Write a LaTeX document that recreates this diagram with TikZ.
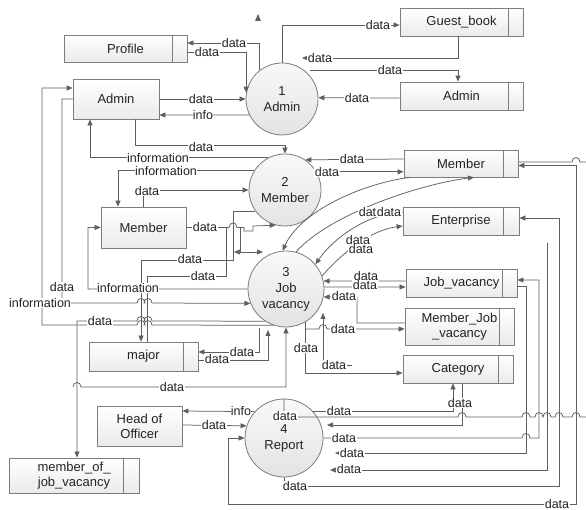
\documentclass[tikz,border=0pt]{standalone}
\usepackage{fontspec}
\setmainfont{Liberation Sans}
\usetikzlibrary{arrows.meta}
\definecolor{ln}{RGB}{95,95,95}
\definecolor{bd}{RGB}{125,125,125}
\definecolor{tx}{RGB}{35,35,35}
\newcommand{\hjr}[2]{-- ({#1-4},#2) .. controls ({#1-4},{#2-6}) and ({#1+4},{#2-6}) .. ({#1+4},#2)}
\newcommand{\hjl}[2]{-- ({#1+4},#2) .. controls ({#1+4},{#2-6}) and ({#1-4},{#2-6}) .. ({#1-4},#2)}
\newcommand{\storebar}[2]{\draw[bd,line width=0.8pt] ([xshift=-#2pt]#1.north east) -- ([xshift=-#2pt]#1.south east);}
\begin{document}
\begin{tikzpicture}[x=1pt,y=-1pt,
  >={Triangle[length=6pt,width=5pt]},
  fl/.style={draw=ln,line width=0.75pt},
  box/.style={draw=bd,line width=0.8pt,top color=white,bottom color=gray!16,inner sep=1pt,align=center,text=tx,font=\fontsize{13}{15}\selectfont},
  proc/.style={circle,draw=bd,line width=0.8pt,top color=gray!5,bottom color=gray!22,inner sep=0pt,align=center,text=tx,font=\fontsize{13}{16}\selectfont},
  lb/.style={fill=white,inner sep=0.4pt,text=tx,font=\fontsize{12.5}{14}\selectfont}]
\fill[white] (0,0) rectangle (586,510);
\useasboundingbox (0,0) rectangle (586,510);

% data stores
\node[box,minimum width=123pt,minimum height=27pt] (profile) at (125.5,48.5) {Profile};
\node[box,minimum width=123pt,minimum height=28pt] (gb) at (461.5,22) {Guest\_book};
\node[box,minimum width=123pt,minimum height=28pt] (adm) at (461.5,96) {Admin};
\node[box,minimum width=114pt,minimum height=27pt] (mems) at (461,163.5) {Member};
\node[box,minimum width=116pt,minimum height=28pt] (ent) at (461,221) {Enterprise};
\node[box,minimum width=111pt,minimum height=28pt] (jv) at (461.5,283) {Job\_vacancy};
\node[box,minimum width=109pt,minimum height=37pt] (mjv) at (459.5,326.5) {Member\_Job\\\_vacancy};
\node[box,minimum width=110pt,minimum height=28pt] (cat) at (458,369) {Category};
\node[box,minimum width=109pt,minimum height=29pt] (major) at (143.5,356.5) {major};
\node[box,minimum width=130pt,minimum height=35pt] (mojv) at (74,475.5) {member\_of\_\\job\_vacancy};
\storebar{profile}{15}
\storebar{gb}{15}
\storebar{adm}{15}
\storebar{mems}{15}
\storebar{ent}{16}
\storebar{jv}{15}
\storebar{mjv}{15}
\storebar{cat}{15}
\storebar{major}{15}
\storebar{mojv}{16}

% external entities
\node[box,minimum width=86pt,minimum height=40pt] (adme) at (116,99) {Admin};
\node[box,minimum width=85pt,minimum height=41pt] (meme) at (143.5,227.5) {Member};
\node[box,minimum width=85pt,minimum height=40pt] (hoo) at (139.5,426) {Head of\\Officer};

% processes
\node[proc,minimum size=72pt] (P1) at (282,99) {1\\Admin};
\node[proc,minimum size=72pt] (P2) at (285,190) {2\\Member};
\node[proc,minimum size=76pt] (P3) at (286,289) {3\\Job\\vacancy};
\node[proc,minimum size=78pt] (P4) at (284,438) {4\\Report};

% lone arrowhead
\fill[ln] (255,21) -- (261,21) -- (258,14) -- cycle;

% ---- process 1
\draw[fl,->] (P1.north) |- ([yshift=-3pt]gb.west);
\draw[fl,->] ([xshift=-3.5pt]gb.south) |- (302,58);
\draw[fl,->] (310,70) -| ([xshift=-3.5pt]adm.north);
\draw[fl,->] ([yshift=-2pt]adm.west) -- (P1.2);
\draw[fl,->] (P1.128) |- ([yshift=5.5pt]profile.east);
\draw[fl,->] ([yshift=-3.5pt]profile.east) -| (P1.170);
\draw[fl,->] (adme.east) -- (P1.west);
\draw[fl,->] (P1.206) -- ([yshift=-16pt]adme.east);

% ---- process 2
\draw[fl,->] ([xshift=19pt]adme.south) |- ([yshift=8pt]P2.north) -- (P2.north);
\draw[fl,->] (P2.117) -| ([xshift=-26pt]adme.south);
\draw[fl,->] (P2.148) -| ([xshift=-25.5pt]meme.north);
\draw[fl,->] (meme.north) |- (P2.west);
\draw[fl,->] ([yshift=4.5pt]mems.west) -- (P2.56);
\draw[fl,->] (P2.30) -- (P2.30 -| mems.west);
\draw[fl,->] (P2.215) -| (233,260) -| ([xshift=-2.5pt]major.north);
\draw[fl] ([xshift=3.5pt]major.north) |- (226,276) -- (226,227.5);
\draw[fl,->] (meme.east) \hjr{233}{227.5} -- (244,227.5) -- (244,231) -- (253,231) -- (253,226) -- (P2.255);
\draw[fl] (240,227.5) -- (240,252);
\draw[fl,<->] (234,252) -- (263,252);

% ---- process 3, right side
\draw[fl,->] ([xshift=6pt]mems.south west) .. controls (360,184) and (300,212) .. (P3.95);
\draw[fl,->] (P3.75) .. controls (330,214) and (420,184) .. ([xshift=13pt]mems.south);
\draw[fl,->] ([yshift=9pt]ent.west) .. controls (370,213) and (335,236) .. (P3.40);
\draw[fl,->] (P3.20) .. controls (345,250) and (372,230) .. ([yshift=-5pt]ent.west);
\draw[fl,->] ([yshift=2pt]jv.west) -- (P3.12);
\draw[fl,->] (P3.3) -- ([yshift=-4pt]jv.west);
\draw[fl,->] ([yshift=3.5pt]mjv.west) -| (357,297) -- (P3.348);
\draw[fl,->] (P3.-60) |- ([yshift=-4pt]cat.west);
\draw[fl,->] (305,329) \hjr{323}{329} -- ([yshift=-2.5pt]mjv.west);
\draw[fl,->] (352,365) -- (323,365) -- (323,313);

% ---- process 3, left side
\draw[fl,->] (P3.west) \hjl{148}{289} \hjl{141}{289} -- (88,289) |- (meme.west);
\draw[fl,->] (adme.west) -| (62,303) \hjr{141}{303} \hjr{148}{303} -- (P3.202);
\draw[fl,->] (P3.237) \hjl{148}{321} \hjl{141}{321} -- (77,321) -- ([xshift=3pt]mojv.north);
\draw[fl,->] (P3.251) \hjl{148}{325} \hjl{141}{325} -- (42,325) |- ([yshift=11pt]adme.west);
\draw[fl,->] (259,328) |- ([yshift=4.5pt]major.east);
\draw[fl,->] ([yshift=-3.5pt]major.east) -| (268,330);
\draw[fl,->] (73,387) .. controls (73,381) and (81,381) .. (81,387) -- (286,387) -- (P3.south);

% ---- process 4
\draw[fl,->] (P4.138) -- ([yshift=15pt]hoo.east);
\draw[fl,->] ([yshift=1pt]hoo.east) -- (P4.162);
\draw[fl,<->] ([yshift=-2pt]mems.east) -| (576,504) -| (228,438) -- (P4.west);
\draw[fl] ([yshift=1.5pt]mems.east) \hjr{576}{162} -- (586,162);
\draw[fl,->] (P4.42) -| ([xshift=-5pt]cat.south);
\draw[fl,->] ([xshift=4pt]cat.south) |- (327,425);
\draw[fl] (P4.north) |- (300,417) \hjr{462}{417} \hjr{526}{417} \hjr{539}{417} \hjr{547}{417} \hjr{559}{417} \hjr{576}{417} -- (586,417);
\draw[fl,->] (P4.east) \hjr{526}{438} -- (539,438) |- ([yshift=3pt]jv.east);
\draw[fl,->] ([yshift=-3pt]jv.east) -| (526,453) -- (335,453);
\draw[fl,->] (547,243) |- (330,470);
\draw[fl,->] (P4.south) |- (559,486) |- ([yshift=3pt]ent.east);

% ---- labels
\node[lb] (l1) at (378,25) {data};
\node[lb] (l2) at (320,58) {data};
\node[lb] (l3) at (390,70) {data};
\node[lb] (l4) at (357,98) {data};
\node[lb] (l5) at (234,43) {data};
\node[lb] (l6) at (207,52) {data};
\node[lb] (l7) at (201,99) {data};
\node[lb] (l8) at (203,115) {info};
\node[lb] (l9) at (201,147) {data};
\node[lb] (l10) at (158,158) {information};
\node[lb] (l11) at (166,171) {information};
\node[lb] (l12) at (147,191) {data};
\node[lb] (l13) at (352,159) {data};
\node[lb] (l14) at (327,172) {data};
\node[lb] (l15a) at (371,212) {data};
\node[lb] (l15b) at (389,212) {data};
\node[lb] (l16a) at (358,240) {data};
\node[lb] (l16b) at (361,249) {data};
\node[lb] (l17a) at (366,276) {data};
\node[lb] (l17b) at (365,285) {data};
\node[lb] (l18) at (344,296) {data};
\node[lb] (l19) at (343,329) {data};
\node[lb] (l20) at (306,348) {data};
\node[lb] (l21) at (334,365) {data};
\node[lb] (l22) at (128,288) {information};
\node[lb] (l23) at (62,287) {data};
\node[lb] (l24) at (40,303) {information};
\node[lb] (l25) at (100,321) {data};
\node[lb] (l26) at (205,227) {data};
\node[lb] (l27) at (190,259) {data};
\node[lb] (l28) at (203,276) {data};
\node[lb] (l29) at (242,352) {data};
\node[lb] (l30) at (217,359) {data};
\node[lb] (l31) at (172,387) {data};
\node[lb] (l32) at (241,411) {info};
\node[lb] (l33) at (214,425) {data};
\node[lb] (l34) at (285,416) {data};
\node[lb] (l35) at (339,411) {data};
\node[lb] (l36) at (460,403) {data};
\node[lb] (l37) at (344,438) {data};
\node[lb] (l38) at (352,453) {data};
\node[lb] (l39) at (349,469) {data};
\node[lb] (l40) at (295,486) {data};
\node[lb] (l41) at (557,504) {data};
\end{tikzpicture}
\end{document}
